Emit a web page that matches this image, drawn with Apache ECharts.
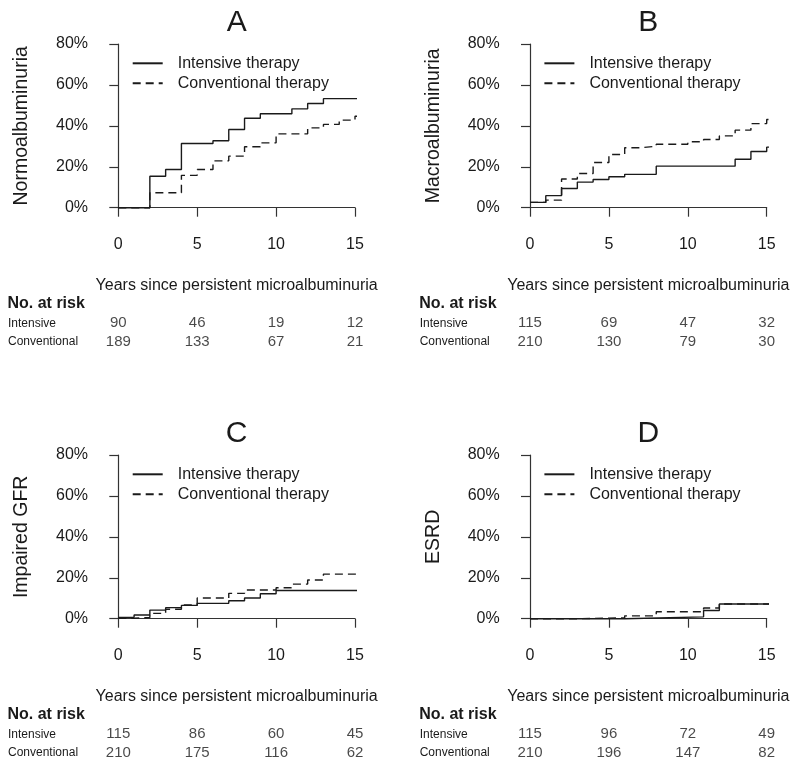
<!DOCTYPE html>
<html>
<head>
<meta charset="utf-8">
<script src="https://cdn.jsdelivr.net/npm/echarts@6/dist/echarts.min.js"></script>
<style>
html,body{margin:0;padding:0;background:#fff;}
#main{width:800px;height:767px;}
</style>
</head>
<body>
<div id="main"></div>
<script>
// ---- Data ----
const panelTitles = ['A', 'B', 'C', 'D'];
const yLabels = ['Normoalbuminuria', 'Macroalbuminuria', 'Impaired GFR', 'ESRD'];
const seriesNames = ['Intensive therapy', 'Conventional therapy'];
const xTicks = [0, 5, 10, 15];
const riskRows = ['Intensive', 'Conventional'];

// [years, cumulative proportion]
const A_intensive = [[0,0],[2,0.154],[3,0.187],[4,0.314],[6,0.327],[7,0.382],[8,0.437],[9,0.459],[11,0.483],[12,0.509],[13,0.533],[15.55,0.533]];
const A_conventional = [[0,0],[2,0.073],[4,0.158],[5,0.187],[6,0.229],[7,0.252],[8,0.298],[9,0.317],[10,0.361],[12,0.39],[13,0.407],[14,0.428],[15,0.447],[15.55,0.447]];
const B_intensive = [[0,0.026],[1,0.059],[2,0.094],[3,0.125],[4,0.138],[5,0.151],[6,0.163],[8,0.203],[13,0.237],[14,0.275],[15,0.296],[15.55,0.296]];
const B_conventional = [[0,0.026],[1,0.037],[2,0.14],[3,0.167],[4,0.221],[5,0.26],[6,0.293],[7,0.30],[8,0.31],[10,0.322],[11,0.333],[12,0.351],[13,0.379],[14,0.411],[15,0.431],[15.55,0.431]];
const C_intensive = [[0,0.0065],[1,0.018],[2,0.042],[3,0.054],[4,0.065],[5,0.075],[7,0.088],[8,0.101],[9,0.122],[10,0.138],[15.55,0.138]];
const C_conventional = [[0,0.002],[1,0.006],[2,0.026],[3,0.046],[4,0.067],[5,0.101],[7,0.124],[8,0.14],[10,0.151],[11,0.169],[12,0.189],[13,0.218],[15.55,0.218]];
const D_intensive = [[0,0],[6,0.009],[11,0.04],[12,0.072],[15.55,0.072]];
const D_conventional = [[0,0],[3,0.004],[6,0.014],[8,0.034],[11,0.052],[12,0.072],[15.55,0.072]];

// numbers at risk at years 0,5,10,15
const A_riskIntensive = [90, 46, 19, 12];
const A_riskConventional = [189, 133, 67, 21];
const B_riskIntensive = [115, 69, 47, 32];
const B_riskConventional = [210, 130, 79, 30];
const C_riskIntensive = [115, 86, 60, 45];
const C_riskConventional = [210, 175, 116, 62];
const D_riskIntensive = [115, 96, 72, 49];
const D_riskConventional = [210, 196, 147, 82];

const curves = [
  [A_intensive, A_conventional],
  [B_intensive, B_conventional],
  [C_intensive, C_conventional],
  [D_intensive, D_conventional]
];
const risks = [
  [A_riskIntensive, A_riskConventional],
  [B_riskIntensive, B_riskConventional],
  [C_riskIntensive, C_riskConventional],
  [D_riskIntensive, D_riskConventional]
];

// ---- Layout ----
const FONT = '"Liberation Sans", Arial, Helvetica, sans-serif';
const TXT = '#1a1a1a';
const LINE = '#1a1a1a';
const dxs = [0, 411.7, 0, 411.7];
const dys = [0, 0, 411, 411];
const X0 = 118.3, W = 236.7, Y80 = 44, H = 163.7;

const grid = [], xAxis = [], yAxis = [], series = [], legend = [], graphic = [];

for (let p = 0; p < 4; p++) {
  const dx = dxs[p], dy = dys[p];
  const gi = 2 * p, ri = 2 * p + 1;
  grid.push({ left: X0 + dx, top: Y80 + dy, width: W, height: H, containLabel: false });
  grid.push({ left: X0 + dx, top: 314.1 + dy, width: W, height: 36.8, containLabel: false });

  xAxis.push({
    gridIndex: gi, type: 'value', min: 0, max: 15, interval: 5, offset: 6.6,
    name: 'Years since persistent microalbuminuria', nameLocation: 'middle', nameGap: 63,
    nameTextStyle: { fontSize: 16, fontFamily: FONT, color: TXT },
    axisLine: { show: true, lineStyle: { color: '#333', width: 1.2 } },
    axisTick: { show: true, length: 9, lineStyle: { color: '#333', width: 1.2 } },
    axisLabel: { fontSize: 16, fontFamily: FONT, color: TXT, margin: 22 },
    splitLine: { show: false }
  });
  xAxis.push({ gridIndex: ri, type: 'value', min: 0, max: 15, show: false });

  yAxis.push({
    gridIndex: gi, type: 'value', min: 0, max: 0.8, interval: 0.2, offset: 10.3,
    name: yLabels[p], nameLocation: 'middle', nameRotate: 90, nameGap: 76,
    nameTextStyle: { fontSize: 19.5, fontFamily: FONT, color: TXT },
    axisLine: { show: true, lineStyle: { color: '#333', width: 1.2 } },
    axisTick: { show: true, length: 9, lineStyle: { color: '#333', width: 1.2 } },
    axisLabel: { fontSize: 16, fontFamily: FONT, color: TXT, margin: 20,
      formatter: v => Math.round(v * 100) + '%' },
    splitLine: { show: false }
  });
  yAxis.push({
    gridIndex: ri, type: 'category', data: riskRows, inverse: true,
    axisLine: { show: false }, axisTick: { show: false }, splitLine: { show: false },
    axisLabel: { align: 'left', margin: 110.3, fontSize: 12, fontFamily: FONT, color: TXT }
  });

  for (let s = 0; s < 2; s++) {
    series.push({
      type: 'line', name: seriesNames[s], xAxisIndex: gi, yAxisIndex: gi,
      data: curves[p][s], step: 'end', symbol: 'none', showSymbol: false, clip: false,
      lineStyle: { color: LINE, width: 1.4, type: s === 0 ? 'solid' : [8, 5] },
      itemStyle: { color: LINE },
      animation: false, silent: true
    });
  }
  const rdata = [];
  for (let r = 0; r < 2; r++) {
    for (let k = 0; k < xTicks.length; k++) {
      rdata.push([xTicks[k], r, risks[p][r][k]]);
    }
  }
  series.push({
    type: 'scatter', name: 'risk' + p, xAxisIndex: ri, yAxisIndex: ri,
    data: rdata, symbolSize: 1, itemStyle: { color: 'rgba(0,0,0,0)' },
    label: { show: true, position: 'inside', fontSize: 15, fontFamily: FONT, color: TXT,
      formatter: q => String(q.value[2]) },
    animation: false, silent: true
  });

  legend.push({
    data: seriesNames, orient: 'vertical', left: X0 + dx + 13.4, top: 53.3 + dy,
    padding: 0, itemWidth: 30, itemHeight: 14, itemGap: 0, selectedMode: false,
    itemStyle: { opacity: 0 },
    textStyle: { fontSize: 16, fontFamily: FONT, color: TXT, lineHeight: 20, padding: [0, 0, 0, 10] }
  });

  graphic.push({
    type: 'text', x: X0 + dx + W / 2, y: 23 + dy, silent: true,
    style: { text: panelTitles[p], fontSize: 30, fontFamily: FONT, fill: TXT, align: 'center', verticalAlign: 'middle' }
  });
  graphic.push({
    type: 'text', x: 7.5 + dx, y: 303.5 + dy, silent: true,
    style: { text: 'No. at risk', fontSize: 16, fontWeight: 'bold', fontFamily: FONT, fill: TXT, align: 'left', verticalAlign: 'middle' }
  });
}

const chart = echarts.init(document.getElementById('main'), null, { renderer: 'canvas' });
chart.setOption({
  backgroundColor: '#fff',
  animation: false,
  grid, xAxis, yAxis, series, legend, graphic
});
</script>
</body>
</html>
